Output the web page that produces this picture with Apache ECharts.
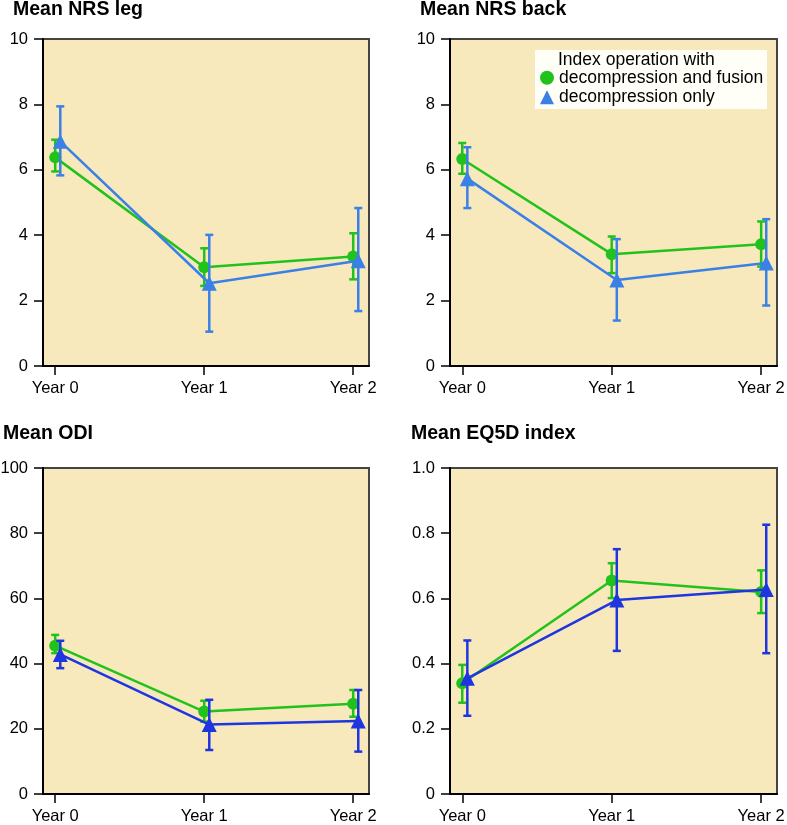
<!DOCTYPE html>
<html>
<head>
<meta charset="utf-8">
<script src="https://cdn.jsdelivr.net/npm/echarts@6/dist/echarts.min.js"></script>
<style>
  html, body { margin: 0; padding: 0; background: #fff; }
  #chart { width: 787px; height: 825px; }
</style>
</head>
<body>
<div id="chart"></div>
<script>
// x positions (years) and labels
var years = [0, 1, 2];
var yearLabels = ["Year 0", "Year 1", "Year 2"];

// Mean NRS leg
var legFusion = [6.38, 3.02, 3.35];
var legFusionLow = [5.95, 2.45, 2.65];
var legFusionHigh = [6.92, 3.6, 4.06];
var legDecomp = [6.87, 2.53, 3.22];
var legDecompLow = [5.83, 1.05, 1.68];
var legDecompHigh = [7.94, 4.01, 4.83];

// Mean NRS back
var backFusion = [6.33, 3.42, 3.72];
var backFusionLow = [5.88, 2.84, 3.04];
var backFusionHigh = [6.82, 3.96, 4.42];
var backDecomp = [5.73, 2.63, 3.15];
var backDecompLow = [4.83, 1.39, 1.85];
var backDecompHigh = [6.69, 3.88, 4.49];

// Mean ODI
var odiFusion = [45.5, 25.3, 27.7];
var odiFusionLow = [43.2, 22.2, 23.7];
var odiFusionHigh = [48.8, 28.6, 31.9];
var odiDecomp = [42.8, 21.3, 22.4];
var odiDecompLow = [38.6, 13.5, 13.0];
var odiDecompHigh = [47.0, 28.9, 31.9];

// Mean EQ5D index
var eqFusion = [0.34, 0.655, 0.62];
var eqFusionLow = [0.28, 0.601, 0.555];
var eqFusionHigh = [0.396, 0.708, 0.686];
var eqDecomp = [0.355, 0.595, 0.627];
var eqDecompLow = [0.24, 0.439, 0.432];
var eqDecompHigh = [0.471, 0.751, 0.826];

var fusionName = "decompression and fusion";
var decompName = "decompression only";
var green = "#22c21c";

var panels = [
  { title: "Mean NRS leg", tx: 13, ty: 0, left: 43, top: 39, width: 326, height: 327, max: 10, interval: 2, blue: "#3a80e6",
    f: [legFusion, legFusionLow, legFusionHigh], d: [legDecomp, legDecompLow, legDecompHigh] },
  { title: "Mean NRS back", tx: 420, ty: 0, left: 450, top: 39, width: 327, height: 327, max: 10, interval: 2, blue: "#3a80e6",
    f: [backFusion, backFusionLow, backFusionHigh], d: [backDecomp, backDecompLow, backDecompHigh] },
  { title: "Mean ODI", tx: 3, ty: 424, left: 43, top: 468, width: 326, height: 326, max: 100, interval: 20, blue: "#1f35e0",
    f: [odiFusion, odiFusionLow, odiFusionHigh], d: [odiDecomp, odiDecompLow, odiDecompHigh] },
  { title: "Mean EQ5D index", tx: 411, ty: 424, left: 450, top: 468, width: 327, height: 326, max: 1, interval: 0.2, blue: "#1f35e0",
    f: [eqFusion, eqFusionLow, eqFusionHigh], d: [eqDecomp, eqDecompLow, eqDecompHigh] }
];

var dodge = 0.034;
var font = "Liberation Sans, Arial, Helvetica, sans-serif";

function errorBars(xs, lows, highs) {
  return xs.map(function (x, i) { return [x, lows[i], highs[i]]; });
}

function renderErrorBar(params, api) {
  var lo = api.coord([api.value(0), api.value(1)]);
  var hi = api.coord([api.value(0), api.value(2)]);
  var cap = 4;
  var style = { stroke: api.visual("color"), lineWidth: 2.5 };
  return {
    type: "group",
    children: [
      { type: "line", shape: { x1: lo[0], y1: lo[1], x2: hi[0], y2: hi[1] }, style: style },
      { type: "line", shape: { x1: lo[0] - cap, y1: lo[1], x2: lo[0] + cap, y2: lo[1] }, style: style },
      { type: "line", shape: { x1: hi[0] - cap, y1: hi[1], x2: hi[0] + cap, y2: hi[1] }, style: style }
    ]
  };
}

var grids = [], xAxes = [], yAxes = [], series = [], titles = [];

panels.forEach(function (p, k) {
  grids.push({
    left: p.left, top: p.top, width: p.width, height: p.height,
    outerBoundsMode: "none", containLabel: false,
    show: true, backgroundColor: "#f7e9bb", borderColor: "#444", borderWidth: 2
  });
  titles.push({
    text: p.title, left: p.tx, top: p.ty, padding: 0,
    textStyle: { fontFamily: font, fontSize: 19.5, fontWeight: "bold", color: "#000" }
  });
  xAxes.push({
    type: "value", gridIndex: k, min: -0.082, max: 2.106,
    splitLine: { show: false },
    axisLine: { show: true, onZero: false, lineStyle: { color: "#000", width: 2 } },
    axisTick: { show: true, length: 9, lineStyle: { color: "#000", width: 1.5 }, customValues: years },
    axisLabel: {
      customValues: years, margin: 14, color: "#000", fontFamily: font, fontSize: 16.5,
      formatter: function (v) { return yearLabels[Math.round(v)]; }
    }
  });
  yAxes.push({
    type: "value", gridIndex: k, min: 0, max: p.max, interval: p.interval,
    splitLine: { show: false },
    axisLine: { show: true, onZero: false, lineStyle: { color: "#000", width: 2 } },
    axisTick: { show: true, length: 9, lineStyle: { color: "#000", width: 1.5 } },
    axisLabel: {
      margin: 15, color: "#000", fontFamily: font, fontSize: 16.5,
      formatter: function (v) { return p.max === 1 ? (v === 0 ? "0" : v.toFixed(1)) : String(v); }
    }
  });

  var dx = years.map(function (x) { return x + dodge; });

  series.push({
    type: "custom", name: fusionName, xAxisIndex: k, yAxisIndex: k, z: 2,
    itemStyle: { color: green }, renderItem: renderErrorBar,
    data: errorBars(years, p.f[1], p.f[2])
  });
  series.push({
    type: "line", name: fusionName, xAxisIndex: k, yAxisIndex: k, z: 3,
    symbol: "circle", symbolSize: 12, color: green,
    lineStyle: { color: green, width: 2.5 },
    data: years.map(function (x, i) { return [x, p.f[0][i]]; })
  });
  series.push({
    type: "custom", name: decompName, xAxisIndex: k, yAxisIndex: k, z: 4,
    itemStyle: { color: p.blue }, renderItem: renderErrorBar,
    data: errorBars(dx, p.d[1], p.d[2])
  });
  series.push({
    type: "line", name: decompName, xAxisIndex: k, yAxisIndex: k, z: 5,
    symbol: "triangle", symbolSize: 15, color: p.blue,
    lineStyle: { color: p.blue, width: 2.5 },
    data: dx.map(function (x, i) { return [x, p.d[0][i]]; })
  });
});

var myChart = echarts.init(document.getElementById("chart"));
myChart.setOption({
  animation: false,
  backgroundColor: "#fff",
  title: titles,
  grid: grids,
  xAxis: xAxes,
  yAxis: yAxes,
  legend: {
    left: 540, top: 68, orient: "vertical", itemWidth: 14, itemHeight: 14, itemGap: 0, padding: 0,
    selectedMode: false, z: 20,
    textStyle: { fontFamily: font, fontSize: 17.5, lineHeight: 19.5, color: "#000" },
    data: [
      { name: fusionName, icon: "circle", itemStyle: { color: green } },
      { name: decompName, icon: "triangle", itemStyle: { color: "#3a80e6" } }
    ]
  },
  graphic: [
    { type: "rect", z: 6, shape: { x: 535, y: 50, width: 232, height: 59 },
      style: { fill: "rgba(255,255,252,0.92)" } },
    { type: "text", z: 20, x: 558, y: 60,
      style: { text: "Index operation with", fontFamily: font, fontSize: 17.5, fill: "#000", verticalAlign: "middle" } }
  ],
  series: series
});
</script>
</body>
</html>
